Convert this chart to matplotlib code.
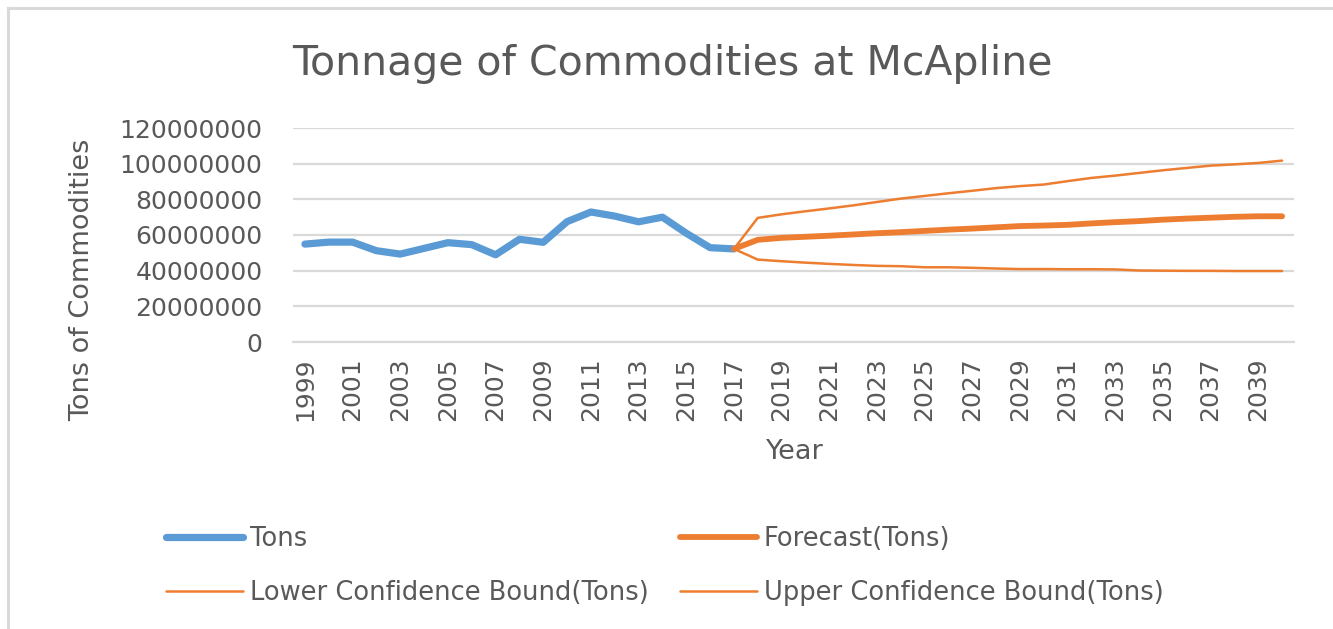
import matplotlib
matplotlib.use("Agg")
import matplotlib.pyplot as plt
from matplotlib.lines import Line2D

years = ["1999", "2000", "2001", "2002", "2003", "2004", "2005", "2006", "2007", "2008",
         "2009", "2010", "2011", "2012", "2013", "2014", "2015", "2016", "2017", "2018",
         "2019", "2020", "2021", "2022", "2023", "2024", "2025", "2026", "2027", "2028",
         "2029", "2030", "2031", "2032", "2033", "2034", "2035", "2036", "2037", "2038",
         "2039", "2040"]

# Actual tonnage, 1999-2017
tons = [54900000, 56000000, 56000000, 51200000, 49300000, 52500000, 55700000, 54600000,
        48900000, 57600000, 55900000, 67500000, 72900000, 70600000, 67400000, 70000000,
        61000000, 52900000, 52200000]

# Forecast and bounds, 2017-2040
forecast = [52200000, 57300000, 58400000, 59000000, 59600000, 60300000, 61000000, 61600000,
            62300000, 63000000, 63600000, 64300000, 65000000, 65300000, 65700000, 66500000,
            67200000, 67800000, 68600000, 69200000, 69700000, 70200000, 70500000, 70500000]
lower = [52200000, 46200000, 45300000, 44500000, 43800000, 43200000, 42700000, 42500000,
         41900000, 41900000, 41600000, 41200000, 40900000, 40900000, 40800000, 40800000,
         40700000, 40100000, 40000000, 39900000, 39900000, 39800000, 39800000, 39800000]
upper = [52200000, 69600000, 71600000, 73300000, 74900000, 76600000, 78500000, 80400000,
         81900000, 83400000, 84800000, 86300000, 87400000, 88300000, 90200000, 92000000,
         93300000, 94800000, 96300000, 97600000, 98900000, 99600000, 100400000, 101700000]

yticks = [0, 20000000, 40000000, 60000000, 80000000, 100000000, 120000000]

title = "Tonnage of Commodities at McApline"
labels = ["Tons", "Forecast(Tons)", "Lower Confidence Bound(Tons)", "Upper Confidence Bound(Tons)"]

BLUE = "#5b9bd5"
ORANGE = "#ed7d31"
GRID = "#d9d9d9"
TEXT = "#595959"

plt.rcParams["font.family"] = ["DejaVu Sans"]

fig = plt.figure(figsize=(13.33, 6.29), dpi=100)
fig.patch.set_facecolor("white")

W, H = 1333, 629
left, right, top, bottom = 293, 1294, 128, 342
ax = fig.add_axes([left / W, 1 - bottom / H, (right - left) / W, (bottom - top) / H])

x_all = list(range(len(years)))
n_hist = len(tons)
x_hist = x_all[:n_hist]
x_fc = x_all[n_hist - 1:]

l_tons, = ax.plot(x_hist, tons, color=BLUE, lw=5.2, solid_capstyle="round",
                  solid_joinstyle="round", zorder=3)
l_fc, = ax.plot(x_fc, forecast, color=ORANGE, lw=4.2, solid_capstyle="round",
                solid_joinstyle="round", zorder=4)
l_lo, = ax.plot(x_fc, lower, color=ORANGE, lw=1.8, solid_capstyle="round", zorder=4)
l_up, = ax.plot(x_fc, upper, color=ORANGE, lw=1.8, solid_capstyle="round", zorder=4)

ax.set_xlim(-0.5, len(years) - 0.5)
ax.set_ylim(0, 120000000)
ax.set_yticks(yticks)
ax.set_yticklabels([str(v) for v in yticks])
ax.set_xticks(x_all[::2])
ax.set_xticklabels(years[::2], rotation=90, va="top", ha="center")

ax.grid(axis="y", color=GRID, lw=1.6)
ax.set_axisbelow(True)
for s in ["top", "right", "left"]:
    ax.spines[s].set_visible(False)
ax.spines["bottom"].set_color(GRID)
ax.spines["bottom"].set_linewidth(1.6)
ax.tick_params(axis="both", length=0, colors=TEXT, labelsize=18)
ax.tick_params(axis="y", pad=22)
ax.tick_params(axis="x", pad=11)

ax.set_ylabel("Tons of Commodities", fontsize=19.5, color=TEXT, va="center")
ax.yaxis.set_label_coords((82 - left) / (right - left), (bottom - 280) / (bottom - top))
ax.set_xlabel("Year", fontsize=19.5, color=TEXT, va="center")
ax.xaxis.set_label_coords((795 - left) / (right - left), (bottom - 452) / (bottom - top))

fig.text(672 / W, 1 - 64 / H, title, fontsize=29.5, color=TEXT, ha="center", va="center")

leg = fig.legend([l_tons, l_lo, l_fc, l_up], [labels[0], labels[2], labels[1], labels[3]],
                 ncol=2, loc="upper left", bbox_to_anchor=(166 / W, 1 - 526 / H),
                 frameon=False, fontsize=18.5, handlelength=3.0, handletextpad=0.27,
                 labelspacing=1.1, columnspacing=1.2, borderaxespad=0, borderpad=0)
for t in leg.get_texts():
    t.set_color(TEXT)

fig.add_artist(Line2D([8 / W, 8 / W], [0, 1 - 8 / H], transform=fig.transFigure,
                      color=GRID, lw=2.2))
fig.add_artist(Line2D([8 / W, 1], [1 - 8 / H, 1 - 8 / H], transform=fig.transFigure,
                      color=GRID, lw=2.2))

fig.savefig("out.png", dpi=100, facecolor="white")
